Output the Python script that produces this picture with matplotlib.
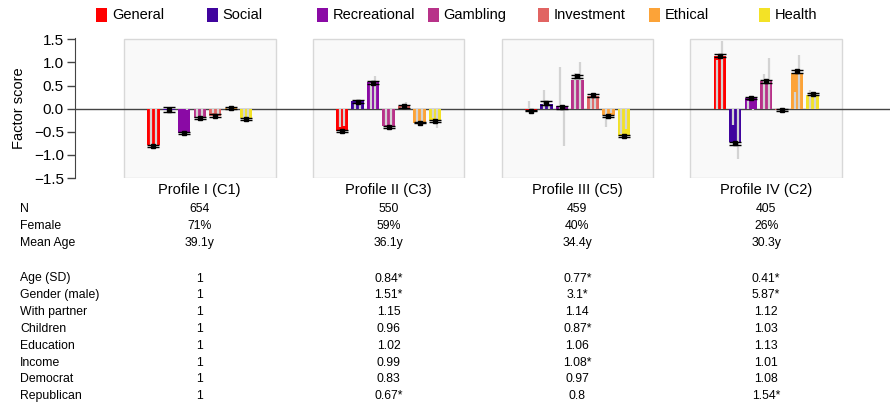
import matplotlib
matplotlib.use('Agg')
import matplotlib.pyplot as plt
from matplotlib.patches import Rectangle
import numpy as np

plt.rcParams['font.family'] = ['Liberation Sans', 'DejaVu Sans']

## factor names and colours
factors = ['General', 'Social', 'Recreational', 'Gambling', 'Investment', 'Ethical', 'Health']
colors = ['#ff0000', '#40049e', '#8a0aa5', '#b83289', '#e16462', '#fca338', '#f3e226']

profiles = ['Profile I (C1)', 'Profile II (C3)', 'Profile III (C5)', 'Profile IV (C2)']

## bar heights (mean factor score per profile)
bars_1 = [-0.79, -0.02, -0.53, -0.20, -0.16, 0.01, -0.21]
bars_2 = [-0.48, 0.16, 0.57, -0.38, 0.05, -0.30, -0.26]
bars_3 = [-0.02, 0.10, 0.06, 0.63, 0.28, -0.14, -0.59]
bars_4 = [1.13, -0.72, 0.23, 0.59, -0.02, 0.78, 0.30]

## black point estimates and their error
pts_1 = [-0.80, -0.02, -0.53, -0.20, -0.15, 0.01, -0.22]
pts_2 = [-0.48, 0.15, 0.56, -0.39, 0.05, -0.30, -0.27]
pts_3 = [-0.04, 0.12, 0.03, 0.70, 0.29, -0.16, -0.59]
pts_4 = [1.15, -0.75, 0.23, 0.59, -0.03, 0.81, 0.31]
err_1 = [0.02, 0.05, 0.02, 0.02, 0.03, 0.02, 0.02]
err_2 = [0.02, 0.03, 0.03, 0.02, 0.03, 0.02, 0.02]
err_3 = [0.02, 0.04, 0.03, 0.04, 0.03, 0.02, 0.02]
err_4 = [0.03, 0.03, 0.02, 0.03, 0.02, 0.03, 0.02]

## grey lines (two replications), drawn from zero
grey_left_1 = [-0.78, -0.01, 0.00, -0.19, -0.10, 0.01, -0.20]
grey_right_1 = [-0.80, -0.03, -0.02, -0.20, -0.12, 0.00, -0.21]
grey_left_2 = [-0.40, 0.12, 0.55, -0.36, 0.03, -0.28, -0.20]
grey_right_2 = [-0.37, 0.12, 0.71, -0.37, 0.15, -0.28, -0.42]
grey_left_3 = [0.17, 0.41, 0.91, 0.78, 0.25, -0.40, -0.55]
grey_right_3 = [0.00, 0.05, -0.80, 1.02, 0.35, -0.10, -0.45]
grey_left_4 = [1.06, -0.36, 0.17, 0.76, -0.01, 0.37, 0.41]
grey_right_4 = [1.46, -1.09, -0.04, 1.10, -0.02, 1.16, 0.28]

bars = [bars_1, bars_2, bars_3, bars_4]
pts = [pts_1, pts_2, pts_3, pts_4]
errs = [err_1, err_2, err_3, err_4]
grey_left = [grey_left_1, grey_left_2, grey_left_3, grey_left_4]
grey_right = [grey_right_1, grey_right_2, grey_right_3, grey_right_4]

## table under the panels
top_rows = ['N', 'Female', 'Mean Age']
top_vals = [['654', '71%', '39.1y'],
            ['550', '59%', '36.1y'],
            ['459', '40%', '34.4y'],
            ['405', '26%', '30.3y']]
or_rows = ['Age (SD)', 'Gender (male)', 'With partner', 'Children', 'Education',
           'Income', 'Democrat', 'Republican']
or_vals = [['1', '1', '1', '1', '1', '1', '1', '1'],
           ['0.84*', '1.51*', '1.15', '0.96', '1.02', '0.99', '0.83', '0.67*'],
           ['0.77*', '3.1*', '1.14', '0.87*', '1.06', '1.08*', '0.97', '0.8'],
           ['0.41*', '5.87*', '1.12', '1.03', '1.13', '1.01', '1.08', '1.54*']]

pitch = 12.2  # distance between panels, in bar slots
width = 0.8
off = 0.15

fig = plt.figure(figsize=(8.9, 4.08), dpi=100)
ax = fig.add_axes([75 / 890., 1 - 178 / 408., 1 - 75 / 890., 140 / 408.])

for p in range(4):
    x = np.arange(7) + p * pitch
    ## panel background
    ax.add_patch(Rectangle((x[0] - 1.9, -1.5), 9.8, 3.0, facecolor='#f9f9f9',
                           edgecolor='#d8d8d8', lw=1, zorder=0))
    ax.bar(x, bars[p], width, color=colors, zorder=2)
    ax.vlines(x - off, 0, grey_left[p], color='#d3d3d3', lw=1.6, zorder=3)
    ax.vlines(x + off, 0, grey_right[p], color='#d3d3d3', lw=1.6, zorder=3)
    ax.errorbar(x, pts[p], yerr=errs[p], fmt='s', color='black', ms=3.5,
                capsize=4.5, capthick=1, elinewidth=1, zorder=5)

ax.axhline(0, color='#444444', lw=1, zorder=1)
ax.set_xlim(-5.06, 3 * pitch + 7.9 + 3.1)
ax.set_ylim(-1.5, 1.53)
yt = np.arange(-1.5, 1.6, 0.5)
ax.set_yticks(yt)
ax.set_yticklabels(['%.1f' % abs(v) if abs(v) < 1e-9 else ('%.1f' % v).replace('-', '\u2212') for v in yt])
ax.tick_params(axis='y', labelsize=11, length=6, color='#444444', width=1, pad=2)
ax.set_xticks([])
for s in ['top', 'right', 'bottom']:
    ax.spines[s].set_visible(False)
ax.spines['left'].set_color('#444444')
ax.set_ylabel('Factor score', fontsize=10.5, labelpad=6)
ax.patch.set_alpha(0)

## legend along the top, equal spacing
for i, (f, c) in enumerate(zip(factors, colors)):
    lx = (96 + i * 110.5) / 890.
    fig.add_artist(Rectangle((lx, 1 - 22 / 408.), 11 / 890., 14 / 408., transform=fig.transFigure,
                             facecolor=c, edgecolor='none'))
    fig.text(lx + 16 / 890., 1 - 15 / 408., f, fontsize=10.5, va='center', ha='left')

## column centres in figure coordinates
to_fig = ax.transData + fig.transFigure.inverted()
cols = [to_fig.transform((p * pitch + 3, 0))[0] for p in range(4)]

for p in range(4):
    fig.text(cols[p], 1 - 190 / 408., profiles[p], fontsize=10.5, ha='center', va='center')

def row_y(px):
    return 1 - px / 408.

y0 = 209.5
for r, lab in enumerate(top_rows):
    fig.text(20 / 890., row_y(y0 + r * 16.7), lab, fontsize=8.8, va='center')
    for p in range(4):
        fig.text(cols[p], row_y(y0 + r * 16.7), top_vals[p][r], fontsize=8.8, ha='center', va='center')

y1 = 278.5
for r, lab in enumerate(or_rows):
    fig.text(20 / 890., row_y(y1 + r * 16.8), lab, fontsize=8.8, va='center')
    for p in range(4):
        fig.text(cols[p], row_y(y1 + r * 16.8), or_vals[p][r], fontsize=8.8, ha='center', va='center')

fig.savefig('out.png', dpi=100)
